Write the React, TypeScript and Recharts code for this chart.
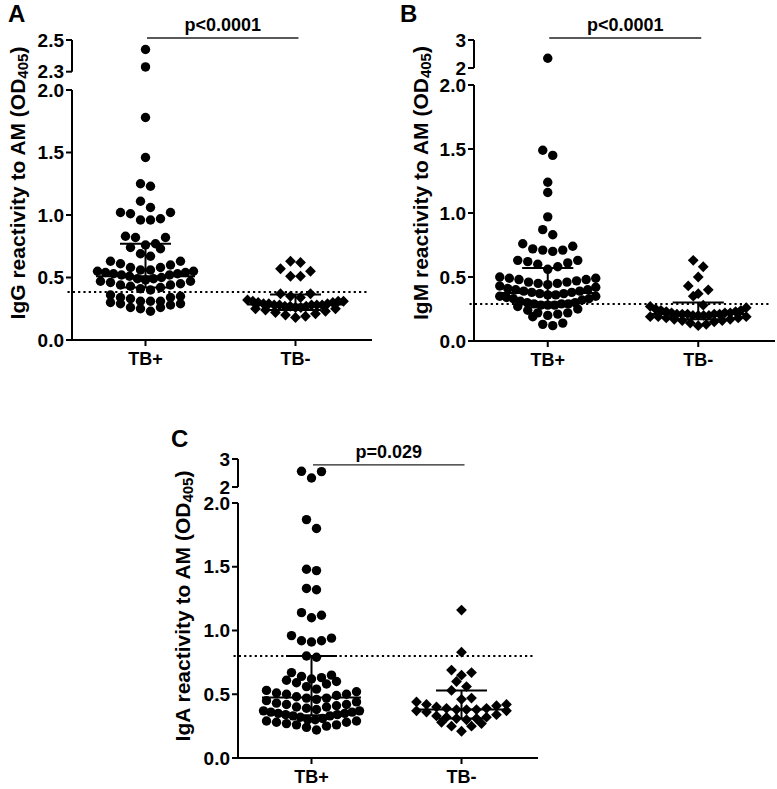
import React from 'react';
import { ScatterChart, Scatter, XAxis, YAxis, ReferenceLine } from 'recharts';

const FONT = '"Liberation Sans", Arial, sans-serif';

const groups = ['TB+', 'TB-'];
const lowerTicks = [0, 0.5, 1, 1.5, 2];

// IgG (panel A)
const iggTbPos = [
  2.44, 2.33, 1.78, 1.46, 1.25, 1.23, 1.11, 1.06, 1.02, 1.02, 1.01, 0.97, 0.96, 0.96,
  0.83, 0.82, 0.82, 0.77, 0.76, 0.74, 0.73, 0.69, 0.67, 0.63, 0.63, 0.61, 0.6, 0.58, 0.58,
  0.56, 0.56, 0.55, 0.55, 0.54, 0.54, 0.53, 0.53, 0.52, 0.52, 0.51, 0.5, 0.49, 0.49, 0.48,
  0.47, 0.47, 0.46, 0.45, 0.44, 0.44, 0.43, 0.42, 0.41, 0.4,
  0.36, 0.35, 0.34, 0.34, 0.33, 0.31, 0.31, 0.31, 0.3, 0.29, 0.29, 0.28, 0.26, 0.26, 0.25, 0.23,
];
const iggTbNeg = [
  0.63, 0.62, 0.57, 0.55, 0.51, 0.51, 0.37, 0.37, 0.35, 0.34, 0.32, 0.31, 0.31, 0.31, 0.3, 0.3,
  0.29, 0.29, 0.29, 0.28, 0.28, 0.28, 0.28, 0.28, 0.27, 0.27, 0.27, 0.26, 0.26, 0.25, 0.25,
  0.24, 0.23, 0.22, 0.21, 0.2, 0.19, 0.18,
];
const iggMedian = [0.51, 0.285];
const iggQ1 = [0.42, 0.24];
const iggQ3 = [0.77, 0.365];
const iggCutoff = 0.385;
const iggUpperTicks = [2.3, 2.5];

// IgM (panel B)
const igmTbPos = [
  2.35, 1.49, 1.45, 1.24, 1.16, 0.97, 0.87, 0.83, 0.76, 0.74, 0.72, 0.71, 0.71, 0.7,
  0.63, 0.63, 0.62, 0.61, 0.6, 0.58, 0.56, 0.5, 0.49, 0.49, 0.48, 0.48, 0.47, 0.46, 0.46,
  0.45, 0.45, 0.44, 0.43, 0.42, 0.41, 0.4, 0.4, 0.39, 0.39, 0.38, 0.38, 0.37, 0.37, 0.36,
  0.36, 0.35, 0.35, 0.34, 0.33, 0.33, 0.32, 0.31, 0.3, 0.3, 0.29, 0.29, 0.29, 0.28, 0.28,
  0.28, 0.27, 0.25, 0.24, 0.22, 0.22, 0.21, 0.2, 0.19, 0.14, 0.13, 0.12,
];
const igmTbNeg = [
  0.63, 0.58, 0.5, 0.43, 0.4, 0.37, 0.35, 0.28, 0.27, 0.26, 0.25, 0.24, 0.24, 0.23, 0.23,
  0.22, 0.22, 0.22, 0.21, 0.21, 0.21, 0.21, 0.21, 0.2, 0.2, 0.2, 0.2, 0.19, 0.19, 0.19,
  0.18, 0.18, 0.17, 0.17, 0.16, 0.16, 0.15, 0.14, 0.13, 0.12,
];
const igmMedian = [0.375, 0.21];
const igmQ1 = [0.3, 0.17];
const igmQ3 = [0.57, 0.3];
const igmCutoff = 0.29;
const igmUpperTicks = [2, 3];

// IgA (panel C)
const igaTbPos = [
  2.56, 2.55, 2.32, 1.87, 1.8, 1.48, 1.47, 1.33, 1.32, 1.14, 1.12, 1.1, 0.96, 0.94, 0.92,
  0.92, 0.91, 0.8, 0.79, 0.67, 0.65, 0.64, 0.63, 0.62, 0.61, 0.6, 0.59, 0.58, 0.56, 0.54,
  0.53, 0.52, 0.51, 0.5, 0.5, 0.49, 0.48, 0.47, 0.47, 0.46, 0.45, 0.44, 0.43, 0.42, 0.42,
  0.41, 0.4, 0.4, 0.39, 0.38, 0.37, 0.37, 0.36, 0.36, 0.35, 0.35, 0.34, 0.34, 0.33, 0.33,
  0.32, 0.31, 0.3, 0.3, 0.29, 0.29, 0.28, 0.28, 0.27, 0.26, 0.26, 0.25, 0.24, 0.22,
];
const igaTbNeg = [
  1.16, 0.83, 0.69, 0.67, 0.65, 0.6, 0.56, 0.53, 0.47, 0.46, 0.44, 0.42, 0.42, 0.41, 0.4,
  0.39, 0.39, 0.38, 0.38, 0.38, 0.37, 0.37, 0.36, 0.34, 0.33, 0.32, 0.32, 0.31, 0.31, 0.3,
  0.28, 0.27, 0.25, 0.25, 0.21,
];
const igaMedian = [0.475, 0.38];
const igaQ1 = [0.335, 0.31];
const igaQ3 = [0.8, 0.53];
const igaCutoff = 0.8;
const igaUpperTicks = [2, 3];

const pValues = ['p<0.0001', 'p<0.0001', 'p=0.029'];

const X_DOMAIN: [number, number] = [-0.49, 1.51];
const ROW_PX = 9; // height of one swarm row
const GAP_PX = 10; // spacing of dots in a row
const MAX_ROW_PX = 96; // widest row

// GraphPad-like scatter: bin sorted values into rows, spread each row from the centre out
function swarm(values: number[], pxPerUnit: number): number[] {
  const order = values.map((_, i) => i).sort((a, b) => values[a] - values[b]);
  const out = new Array(values.length).fill(0);
  let k = 0;
  while (k < order.length) {
    const start = values[order[k]] * pxPerUnit;
    const row: number[] = [];
    while (k < order.length && values[order[k]] * pxPerUnit - start < ROW_PX) {
      row.push(order[k]);
      k++;
    }
    const n = row.length;
    const s = n > 1 ? Math.min(GAP_PX, MAX_ROW_PX / (n - 1)) : 0;
    const slots = row.map((_, j) => (j - (n - 1) / 2) * s);
    slots.sort((a, b) => Math.abs(a) - Math.abs(b) || b - a);
    row.forEach((idx, j) => {
      out[idx] = slots[j];
    });
  }
  return out;
}

const circle = (p: any) => <circle cx={p.cx} cy={p.cy} r={4.7} fill="#000" />;
const diamond = (p: any) => {
  const r = 5.4;
  return (
    <polygon
      points={`${p.cx},${p.cy - r} ${p.cx + r},${p.cy} ${p.cx},${p.cy + r} ${p.cx - r},${p.cy}`}
      fill="#000"
    />
  );
};

const axisLine = { stroke: '#000', strokeWidth: 2 };

type Cfg = {
  left: number; top: number; axisX: number; plotRight: number;
  lowTop: number; lowBottom: number; upTop: number; upBottom: number;
  upDomain: [number, number]; upTicks: number[]; upDigits: number;
  pos: number[]; neg: number[]; median: number[]; q1: number[]; q3: number[];
  cutoff: number; pText: string; pBarY: number;
  isotype: string; labelX: number; labelY: number; xAxisH: number;
};

function Panel({ cfg }: { cfg: Cfg }) {
  const width = cfg.plotRight - cfg.left + 2;
  const yW = cfg.axisX - cfg.left;
  const xPx = (cfg.plotRight - cfg.axisX) / (X_DOMAIN[1] - X_DOMAIN[0]);
  const lowPx = (cfg.lowBottom - cfg.lowTop) / 2;
  const upPx = (cfg.upBottom - cfg.upTop) / (cfg.upDomain[1] - cfg.upDomain[0]);

  const series = [cfg.pos, cfg.neg].map((vals, g) => {
    const low = vals.filter((v) => v <= 2);
    const high = vals.filter((v) => v > 2);
    const lo = swarm(low, lowPx).map((o, i) => ({ x: g + o / xPx, y: low[i] }));
    const hi = swarm(high, upPx).map((o, i) => ({ x: g + o / xPx, y: high[i] }));
    return { lo, hi };
  });

  const lx = cfg.labelX - cfg.left;
  const ly = cfg.labelY - cfg.top;
  const yLabel = () => (
    <text
      x={lx}
      y={ly}
      transform={`rotate(-90 ${lx} ${ly})`}
      textAnchor="middle"
      dominantBaseline="central"
      fontSize={21}
      fontWeight="bold"
      fontFamily={FONT}
      fill="#000"
    >
      {cfg.isotype} reactivity to AM (OD
      <tspan dy={5} fontSize={15}>405</tspan>
      <tspan dy={-5}>)</tspan>
    </text>
  );

  const bars = [0, 1].flatMap((g) => {
    const half = g === 0 ? 0.33 : 0.32;
    return [
      [{ x: g - half, y: cfg.median[g] }, { x: g + half, y: cfg.median[g] }],
      [{ x: g - 0.17, y: cfg.q3[g] }, { x: g + 0.17, y: cfg.q3[g] }],
      [{ x: g - 0.17, y: cfg.q1[g] }, { x: g + 0.17, y: cfg.q1[g] }],
      [{ x: g, y: cfg.q1[g] }, { x: g, y: cfg.q3[g] }],
    ];
  });

  const tickStyle = { fill: '#000', fontSize: 19, fontWeight: 'bold', fontFamily: FONT };
  const lowH = cfg.lowBottom - cfg.top + cfg.xAxisH;
  const upPad = 12;

  return (
    <div style={{ position: 'absolute', left: cfg.left, top: cfg.top, width, height: lowH }}>
      <div style={{ position: 'absolute', left: 0, top: 0 }}>
        <ScatterChart
          width={width}
          height={lowH}
          margin={{ top: cfg.lowTop - cfg.top, right: 2, bottom: 0, left: 0 }}
        >
          <XAxis
            type="number"
            dataKey="x"
            domain={X_DOMAIN}
            ticks={[0, 1]}
            interval={0}
            tickFormatter={(v: number) => groups[Math.round(v)]}
            height={cfg.xAxisH}
            axisLine={axisLine}
            tickLine={axisLine}
            tickSize={6}
            tickMargin={6}
            tick={{ ...tickStyle, fontSize: 18 }}
          />
          <YAxis
            type="number"
            dataKey="y"
            domain={[0, 2]}
            ticks={lowerTicks}
            interval={0}
            tickFormatter={(v: number) => v.toFixed(1)}
            width={yW}
            axisLine={axisLine}
            tickLine={axisLine}
            tickSize={6}
            tickMargin={2}
            tick={tickStyle}
            label={yLabel}
          />
          <ReferenceLine
            segment={[{ x: -0.52, y: cfg.cutoff }, { x: 1.48, y: cfg.cutoff }]}
            stroke="#000"
            strokeWidth={2}
            strokeDasharray="2.2 3.1"
            ifOverflow="visible"
          />
          <Scatter data={series[0].lo} shape={circle} isAnimationActive={false} />
          <Scatter data={series[1].lo} shape={diamond} isAnimationActive={false} />
          {bars.map((seg, i) => (
            <ReferenceLine key={i} segment={seg} stroke="#000" strokeWidth={2} ifOverflow="visible" />
          ))}
        </ScatterChart>
      </div>
      <div style={{ position: 'absolute', left: 0, top: 0 }}>
        <ScatterChart
          width={width}
          height={cfg.upBottom - cfg.top + upPad}
          margin={{ top: cfg.upTop - cfg.top, right: 2, bottom: upPad, left: 0 }}
        >
          <XAxis type="number" dataKey="x" domain={X_DOMAIN} hide />
          <YAxis
            type="number"
            dataKey="y"
            domain={cfg.upDomain}
            ticks={cfg.upTicks}
            interval={0}
            tickFormatter={(v: number) => v.toFixed(cfg.upDigits)}
            width={yW}
            axisLine={axisLine}
            tickLine={axisLine}
            tickSize={6}
            tickMargin={2}
            tick={tickStyle}
          />
          <ReferenceLine
            segment={[{ x: 0.01, y: cfg.pBarY }, { x: 1.02, y: cfg.pBarY }]}
            stroke="#222"
            strokeWidth={1.4}
            ifOverflow="visible"
            label={{
              value: cfg.pText,
              position: 'top',
              offset: 7,
              fill: '#000',
              fontSize: 18,
              fontWeight: 'bold',
              fontFamily: FONT,
            }}
          />
          <Scatter data={series[0].hi} shape={circle} isAnimationActive={false} />
          <Scatter data={series[1].hi} shape={diamond} isAnimationActive={false} />
        </ScatterChart>
      </div>
    </div>
  );
}

const panels: Cfg[] = [
  {
    left: 0, top: 0, axisX: 72, plotRight: 372, lowTop: 90, lowBottom: 340, upTop: 40, upBottom: 71.7,
    upDomain: [2.3, 2.5], upTicks: iggUpperTicks, upDigits: 1,
    pos: iggTbPos, neg: iggTbNeg, median: iggMedian, q1: iggQ1, q3: iggQ3, cutoff: iggCutoff,
    pText: pValues[0], pBarY: 2.513, isotype: 'IgG', labelX: 17, labelY: 183, xAxisH: 40,
  },
  {
    left: 400, top: 0, axisX: 474, plotRight: 775, lowTop: 85, lowBottom: 341, upTop: 40, upBottom: 68,
    upDomain: [2, 3], upTicks: igmUpperTicks, upDigits: 0,
    pos: igmTbPos, neg: igmTbNeg, median: igmMedian, q1: igmQ1, q3: igmQ3, cutoff: igmCutoff,
    pText: pValues[1], pBarY: 3.07, isotype: 'IgM', labelX: 420, labelY: 183, xAxisH: 40,
  },
  {
    left: 160, top: 400, axisX: 238, plotRight: 538, lowTop: 503, lowBottom: 758, upTop: 459, upBottom: 487,
    upDomain: [2, 3], upTicks: igaUpperTicks, upDigits: 0,
    pos: igaTbPos, neg: igaTbNeg, median: igaMedian, q1: igaQ1, q3: igaQ3, cutoff: igaCutoff,
    pText: pValues[2], pBarY: 2.79, isotype: 'IgA', labelX: 182, labelY: 606, xAxisH: 30,
  },
];

const letters = [
  { text: 'A', left: 8, top: 2 },
  { text: 'B', left: 400, top: 2 },
  { text: 'C', left: 171, top: 427 },
];

export default function App() {
  return (
    <div
      style={{
        position: 'absolute', left: 0, top: 0, width: 777, height: 789, overflow: 'hidden',
        background: '#fff', fontFamily: FONT,
      }}
    >
      {panels.map((cfg, i) => (
        <Panel key={i} cfg={cfg} />
      ))}
      {letters.map((l) => (
        <div
          key={l.text}
          style={{
            position: 'absolute', left: l.left, top: l.top, fontSize: 24, lineHeight: '24px',
            fontWeight: 'bold', color: '#000',
          }}
        >
          {l.text}
        </div>
      ))}
    </div>
  );
}
